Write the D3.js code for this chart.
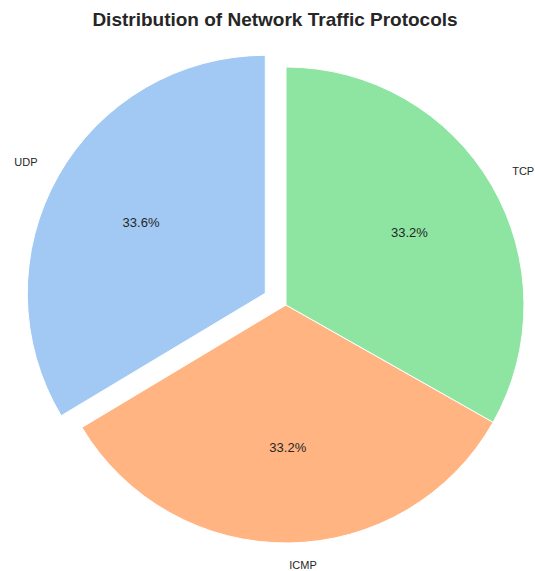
<!DOCTYPE html>
<html>
<head>
<meta charset="utf-8">
<script src="https://cdn.jsdelivr.net/npm/d3@7"></script>
<style>
	body { margin: 0; background: #fff; }
	text { font-family: "Liberation Sans", Arial, sans-serif; fill: #262626; }
</style>
</head>
<body>
<div id="chart"></div>
<script>
const protocols = ['UDP', 'ICMP', 'TCP']
const shares    = [33.6, 33.2, 33.2]
const explode   = [0.1, 0, 0]
const colors    = ['#a1c9f4', '#ffb482', '#8de5a1']

const w = 535, h = 571
const cx = 286, cy = 305, radius = 238

const svg = d3.select('#chart').append('svg')
	.attr('width', w)
	.attr('height', h)

svg.append('text')
	.attr('x', 275)
	.attr('y', 26)
	.attr('text-anchor', 'middle')
	.style('font-size', '19px')
	.style('font-weight', 'bold')
	.text('Distribution of Network Traffic Protocols')

const data = protocols.map((p, i) => ({ label: p, value: shares[i], explode: explode[i], color: colors[i] }))

// counterclockwise from 12 o'clock, like matplotlib startangle=90
const pie = d3.pie()
	.sort(null)
	.value(d => d.value)
	.startAngle(0)
	.endAngle(-2 * Math.PI)

const arc = d3.arc()
	.innerRadius(0)
	.outerRadius(radius)

const midAngle = d => (d.startAngle + d.endAngle) / 2
const polar = (a, r) => [Math.sin(a) * r, -Math.cos(a) * r]

const g = svg.append('g').attr('transform', `translate(${cx},${cy})`)

const slices = g.selectAll('g.slice')
	.data(pie(data))
	.enter()
	.append('g')
	.attr('class', 'slice')
	.attr('transform', d => `translate(${polar(midAngle(d), d.data.explode * radius)})`)

slices.append('path')
	.attr('d', arc)
	.attr('fill', d => d.data.color)
	.attr('stroke', '#fff')
	.attr('stroke-width', 1)

// Labels

slices.append('text')
	.attr('transform', d => `translate(${polar(midAngle(d), radius * 1.1)})`)
	.attr('dy', '.2em')
	.attr('text-anchor', d => polar(midAngle(d), 1)[0] < 0 ? 'end' : 'start')
	.style('font-size', '11px')
	.text(d => d.data.label)

slices.append('text')
	.attr('transform', d => `translate(${polar(midAngle(d), radius * 0.6)})`)
	.attr('dy', '.3em')
	.attr('text-anchor', 'middle')
	.style('font-size', '13px')
	.text(d => `${d.data.value.toFixed(1)}%`)
</script>
</body>
</html>
